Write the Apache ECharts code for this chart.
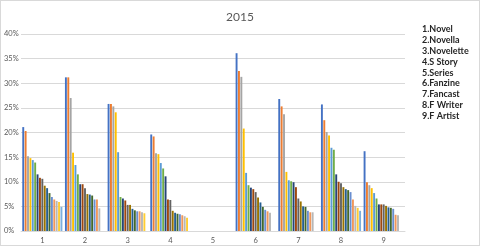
<!DOCTYPE html>
<html><head><meta charset="utf-8">
<script src="https://cdn.jsdelivr.net/npm/echarts@6/dist/echarts.min.js"></script>
<style>html,body{margin:0;padding:0;background:#fff}#c{width:478px;height:244px;border:1px solid #d9d9d9}</style>
</head><body><div id="c"></div>
<script>
const categories = ['1','2','3','4','5','6','7','8','9'];
const cat1 = [21.1,20.3,15.2,14.8,14.4,13.9,11.5,10.8,10.6,9.2,8.7,7.7,6.9,6.4,6.1,5.9,4.9];
const cat2 = [31.2,31.2,27.0,15.9,13.4,11.5,9.5,9.5,8.7,7.5,7.4,7.2,6.4,6.4,4.6];
const cat3 = [25.8,25.8,25.3,24.1,16.0,6.9,6.6,6.2,5.3,5.3,4.5,4.2,4.0,4.0,3.8,3.6];
const cat4 = [19.6,19.2,15.8,15.6,13.8,12.7,11.1,6.4,6.3,4.1,3.7,3.5,3.4,3.2,3.0,2.7];
const cat5 = [];
const cat6 = [36.1,32.5,31.3,20.8,11.8,9.3,8.8,8.5,7.9,6.8,5.8,4.9,4.3,4.0,3.7];
const cat7 = [26.8,25.3,23.7,12.0,10.3,10.1,9.9,8.9,6.6,6.0,5.0,4.9,4.1,3.8,3.8];
const cat8 = [25.7,22.5,20.1,19.4,16.9,16.5,11.5,10.0,9.7,8.9,8.5,8.3,7.9,6.4,5.1,4.7,4.1];
const cat9 = [16.2,9.9,9.3,8.7,7.7,6.6,5.4,5.4,5.4,5.1,4.8,4.7,4.5,3.3,3.2];
const yTicks = [0,5,10,15,20,25,30,35,40];
const legendLines = ['1.Novel','2.Novella','3.Novelette','4.S Story','5.Series','6.Fanzine','7.Fancast','8.F Writer','9.F Artist'];
const chartTitle = '2015';

const groups = [cat1,cat2,cat3,cat4,cat5,cat6,cat7,cat8,cat9];
const colors = ['#4472C4','#ED7D31','#A5A5A5','#FFC000','#5B9BD5','#70AD47','#264478','#9E480E','#636363','#997300','#255E91','#43682B','#698ED0','#F1975A','#B7B7B7','#FFCD33','#7CAFDD'];
const nSeries = Math.max(...groups.map(g => g.length));
const series = [];
for (let k = 0; k < nSeries; k++) {
  series.push({
    type: 'bar',
    name: 'r' + (k + 1),
    data: groups.map(g => (g[k] !== undefined ? g[k] : '-')),
    barGap: '25%',
    barCategoryGap: '6%',
    itemStyle: { color: colors[k % colors.length] },
    animation: false
  });
}
const chart = echarts.init(document.getElementById('c'), null, { renderer: 'canvas' });
chart.setOption({
  animation: false,
  title: [
    { text: chartTitle, left: 'center', top: 5, textStyle: { fontFamily: 'Lato', fontSize: 12, fontWeight: 'normal', color: '#595959' } },
    { text: legendLines.join('\n'), left: 416, top: 18, textStyle: { fontFamily: 'Lato', fontSize: 9, fontWeight: 'bold', color: '#262626', lineHeight: 10.8 } }
  ],
  grid: { left: 20, right: 74, top: 33, bottom: 14, containLabel: false },
  xAxis: {
    type: 'category', data: categories,
    axisLine: { lineStyle: { color: '#d9d9d9' } },
    axisTick: { show: false },
    axisLabel: { fontFamily: 'Lato', fontSize: 7.5, color: '#595959', margin: 6 }
  },
  yAxis: {
    type: 'value', min: yTicks[0], max: yTicks[yTicks.length - 1], interval: yTicks[1] - yTicks[0],
    axisLine: { show: false }, axisTick: { show: false },
    splitLine: { lineStyle: { color: '#d9d9d9', width: 1 } },
    axisLabel: { formatter: '{value}%', fontFamily: 'Lato', fontSize: 7.5, color: '#595959', align: 'left', margin: 17 }
  },
  series: series
});
</script></body></html>
